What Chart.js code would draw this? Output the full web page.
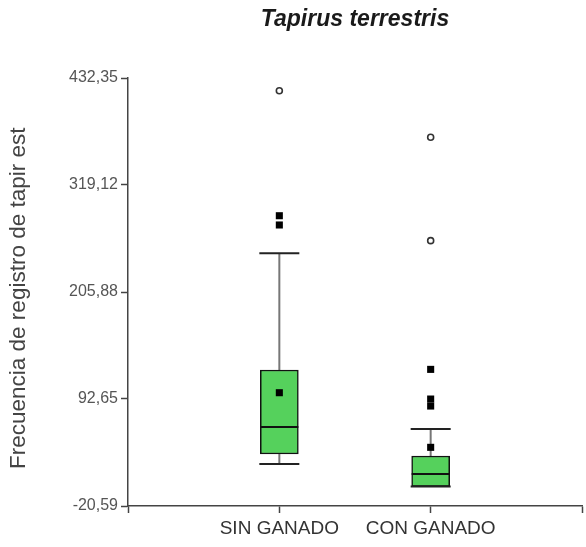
<!DOCTYPE html>
<html>
<head>
<meta charset="utf-8">
<script src="https://cdn.jsdelivr.net/npm/chart.js@4/dist/chart.umd.min.js"></script>
<style>
  html, body { margin: 0; padding: 0; background: #fff; }
  canvas { display: block; }
</style>
</head>
<body>
<canvas id="c" width="586" height="547"></canvas>
<script>
// Box-plot summary per group
const categories = ['SIN GANADO', 'CON GANADO'];
const yTicks = [-20.59, 92.65, 205.88, 319.12, 432.35];
const lowerWhisker = [23.9, 0];
const q1 = [34.4, 0];
const median = [63.0, 13.3];
const q3 = [123.3, 32.3];
const upperWhisker = [246.8, 60.9];
const mean = [99.3, 41.5];
const outliers = [[286.6, 276.8], [124.0, 92.6, 85.2]];
const farOutliers = [[418.9], [369.6, 260.2]];

const FONT = "'Liberation Sans', Arial, Helvetica, sans-serif";
const pos = i => i + 1; // group position on the x scale

const datasets = [];

// means and mild outliers: filled squares
datasets.push({
  type: 'scatter',
  data: [
    ...mean.map((v, i) => ({ x: pos(i), y: v })),
    ...outliers.flatMap((arr, i) => arr.map(v => ({ x: pos(i), y: v })))
  ],
  pointStyle: 'rect', pointRadius: 5, backgroundColor: '#000', borderColor: '#000', borderWidth: 0,
  order: 0
});
// extreme outliers: open circles
datasets.push({
  type: 'scatter',
  data: farOutliers.flatMap((arr, i) => arr.map(v => ({ x: pos(i), y: v }))),
  pointStyle: 'circle', pointRadius: 3, backgroundColor: '#fff', borderColor: '#333', borderWidth: 1.6,
  order: 0
});
// medians
datasets.push({
  type: 'scatter',
  data: median.map((v, i) => ({ x: pos(i), y: v })),
  pointStyle: 'line', pointRadius: 19, borderColor: '#111', borderWidth: 2,
  order: 1
});
// whisker caps
datasets.push({
  type: 'scatter',
  data: [
    ...upperWhisker.map((v, i) => ({ x: pos(i), y: v })),
    ...lowerWhisker.map((v, i) => ({ x: pos(i), y: v }))
  ],
  pointStyle: 'line', pointRadius: 20, borderColor: '#222', borderWidth: 2,
  order: 1
});
// boxes (Q1..Q3)
datasets.push({
  type: 'bar',
  data: q1.map((v, i) => ({ x: pos(i), y: [v, q3[i]] })),
  backgroundColor: '#55d15c', borderColor: '#111', borderWidth: 1.5, borderSkipped: false,
  barThickness: 38,
  order: 2
});
// whisker stems
categories.forEach((c, i) => {
  [[q3[i], upperWhisker[i]], [lowerWhisker[i], q1[i]]].forEach(([a, b]) => {
    datasets.push({
      type: 'line',
      data: [{ x: pos(i), y: a }, { x: pos(i), y: b }],
      borderColor: '#777', borderWidth: 2, pointRadius: 0,
      order: 3
    });
  });
});

new Chart(document.getElementById('c'), {
  data: { datasets },
  options: {
    responsive: false,
    devicePixelRatio: 1,
    animation: false,
    layout: { autoPadding: false, padding: { left: 0, right: 4, top: 0, bottom: 0 } },
    plugins: {
      legend: { display: false },
      tooltip: { enabled: false },
      title: {
        display: true,
        fullSize: false,
        text: 'Tapirus terrestris',
        color: '#1a1a1a',
        font: { family: FONT, size: 23, style: 'italic', weight: 'bold', lineHeight: 1.2 },
        padding: { top: 6, bottom: 44.4 }
      }
    },
    scales: {
      x: {
        type: 'linear',
        offset: false,
        min: 0, max: categories.length + 1,
        afterBuildTicks: s => { s.ticks = [0, 1, 2, 3].map(v => ({ value: v })); },
        afterFit: s => { s.height = 41; s.paddingLeft = 0; s.paddingRight = 0; },
        ticks: {
          autoSkip: false, maxRotation: 0,
          callback: v => categories[v - 1] || '',
          color: '#333', font: { family: FONT, size: 19 }, padding: 4
        },
        grid: { offset: false, drawOnChartArea: false, tickLength: 7, tickColor: '#444', tickWidth: 1.5 },
        border: { color: '#444', width: 1.5 }
      },
      y: {
        type: 'linear',
        min: yTicks[0], max: yTicks[yTicks.length - 1],
        afterBuildTicks: s => { s.ticks = yTicks.map(v => ({ value: v })); },
        afterFit: s => { s.width = 128; },
        ticks: {
          autoSkip: false,
          callback: v => v.toFixed(2).replace('.', ','),
          color: '#555', font: { family: FONT, size: 16 }, padding: 3
        },
        grid: { drawOnChartArea: false, tickLength: 7, tickColor: '#444', tickWidth: 1.5 },
        border: { color: '#444', width: 1.5 },
        title: {
          display: true,
          text: 'Frecuencia de registro de tapir est  ',
          color: '#444',
          font: { family: FONT, size: 22.5, lineHeight: 1.2 },
          padding: { top: 5, bottom: 4 }
        }
      }
    }
  }
});
</script>
</body>
</html>
